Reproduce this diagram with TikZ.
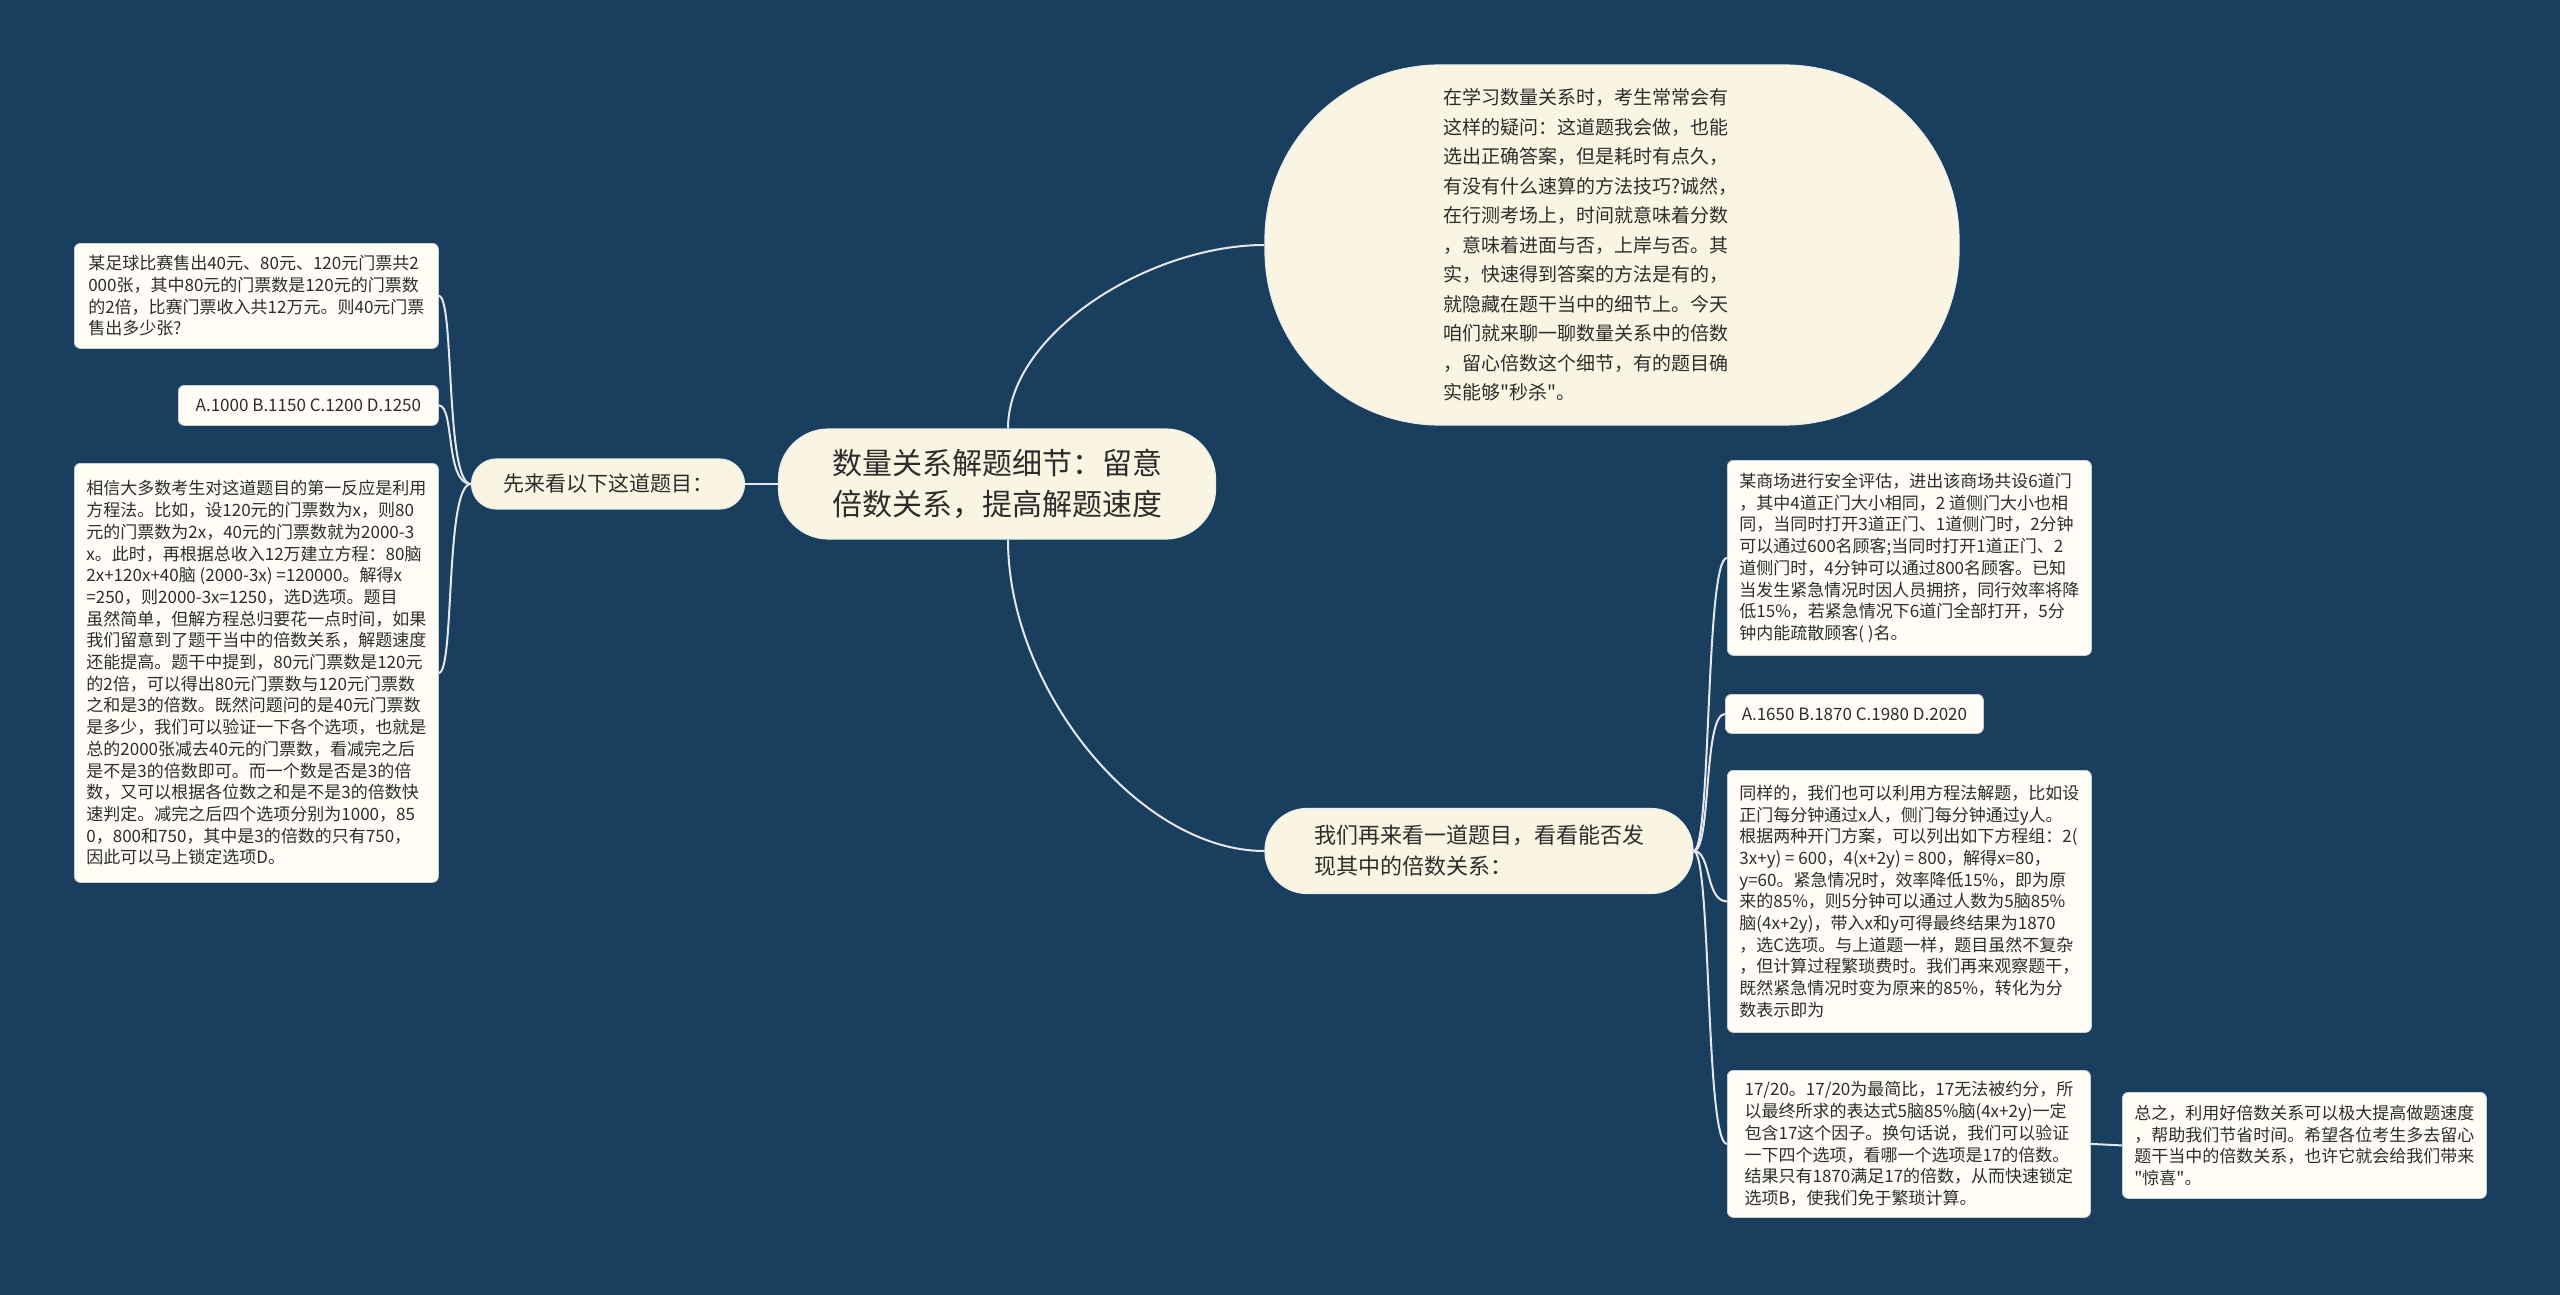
\documentclass[tikz,border=0pt]{standalone}
\usepackage{fontspec}
\newfontfamily\cjkfont{Noto Sans CJK SC}
\usepackage{tikz}
\usetikzlibrary{positioning, calc, backgrounds}

\definecolor{mapbg}{RGB}{26,62,94}
\definecolor{topicfill}{RGB}{250,245,226}
\definecolor{topicedge}{RGB}{236,238,236}
\definecolor{leaffill}{RGB}{255,253,246}
\definecolor{leafedge}{RGB}{205,208,210}
\definecolor{inktext}{RGB}{45,45,45}
\definecolor{branchline}{RGB}{228,232,236}

\begin{document}
\begin{tikzpicture}[x=1pt, y=-1pt]
    \tikzset{
        topic/.style={
                fill=topicfill, draw=topicedge, line width=1.2pt,
                text=inktext, align=left, inner sep=0pt
            },
        leaf/.style={
                fill=leaffill, draw=leafedge, line width=0.8pt, rounded corners=6pt,
                text=inktext, align=left, inner xsep=12pt, inner ysep=0pt,
                font=\cjkfont\fontsize{17}{21.7}\selectfont, anchor=north west
            },
        branch/.style={draw=branchline, line width=2pt}
    }

    \fill[mapbg] (0,0) rectangle (2560,1295);
    \useasboundingbox (0,0) rectangle (2560,1295);

    % central topic
    \node[topic, rounded corners=50pt, minimum width=437pt, minimum height=110pt,
        font=\cjkfont\fontsize{30}{41}\selectfont] (core) at (997,484)
    {数量关系解题细节：留意\\倍数关系，提高解题速度};

    % intro
    \node[topic, rounded corners=175pt, minimum width=694pt, minimum height=360pt,
        font=\cjkfont\fontsize{19}{29.5}\selectfont] (intro) at (1612,245)
    {在学习数量关系时，考生常常会有\hbox to 52pt{}\\这样的疑问：这道题我会做，也能\\选出正确答案，但是耗时有点久，\\有没有什么速算的方法技巧?诚然，\\在行测考场上，时间就意味着分数\\，意味着进面与否，上岸与否。其\\实，快速得到答案的方法是有的，\\就隐藏在题干当中的细节上。今天\\咱们就来聊一聊数量关系中的倍数\\，留心倍数这个细节，有的题目确\\实能够"秒杀"。};

    % first question
    \node[topic, rounded corners=25pt, minimum width=273pt, minimum height=50pt,
        font=\cjkfont\fontsize{21}{29}\selectfont] (firstq) at (608,484)
    {先来看以下这道题目：};
    \node[leaf, minimum width=364pt, minimum height=105pt] (qa) at (74,243)
    {某足球比赛售出40元、80元、120元门票共2\\000张，其中80元的门票数是120元的门票数\\的2倍，比赛门票收入共12万元。则40元门票\\售出多少张?};
    \node[leaf, minimum width=260pt, minimum height=40pt] (qaopt) at (178,385)
    {A.1000 B.1150 C.1200 D.1250};
    \node[leaf, minimum width=364pt, minimum height=419pt] (qasol) at (74,463)
    {相信大多数考生对这道题目的第一反应是利用\\方程法。比如，设120元的门票数为x，则80\\元的门票数为2x，40元的门票数就为2000-3\\x。此时，再根据总收入12万建立方程：80脑\\2x+120x+40脑 (2000-3x) =120000。解得x\\=250，则2000-3x=1250，选D选项。题目\\虽然简单，但解方程总归要花一点时间，如果\\我们留意到了题干当中的倍数关系，解题速度\\还能提高。题干中提到，80元门票数是120元\\的2倍，可以得出80元门票数与120元门票数\\之和是3的倍数。既然问题问的是40元门票数\\是多少，我们可以验证一下各个选项，也就是\\总的2000张减去40元的门票数，看减完之后\\是不是3的倍数即可。而一个数是否是3的倍\\数，又可以根据各位数之和是不是3的倍数快\\速判定。减完之后四个选项分别为1000，85\\0，800和750，其中是3的倍数的只有750，\\因此可以马上锁定选项D。};

    % second question
    \node[topic, rounded corners=42pt, minimum width=428pt, minimum height=85pt,
        font=\cjkfont\fontsize{22}{31}\selectfont] (secondq) at (1479,851)
    {我们再来看一道题目，看看能否发\\现其中的倍数关系：};
    \node[leaf, minimum width=363pt, minimum height=195pt] (qb) at (1727,460)
    {某商场进行安全评估，进出该商场共设6道门\\，其中4道正门大小相同，2 道侧门大小也相\\同，当同时打开3道正门、1道侧门时，2分钟\\可以通过600名顾客;当同时打开1道正门、2\\道侧门时，4分钟可以通过800名顾客。已知\\当发生紧急情况时因人员拥挤，同行效率将降\\低15\%，若紧急情况下6道门全部打开，5分\\钟内能疏散顾客( )名。};
    \node[leaf, minimum width=258pt, minimum height=39pt] (qbopt) at (1725,694)
    {A.1650 B.1870 C.1980 D.2020};
    \node[leaf, minimum width=363pt, minimum height=262pt] (qbsol) at (1727,770)
    {同样的，我们也可以利用方程法解题，比如设\\正门每分钟通过x人，侧门每分钟通过y人。\\根据两种开门方案，可以列出如下方程组：2(\\3x+y) = 600，4(x+2y) = 800，解得x=80，\\y=60。紧急情况时，效率降低15\%，即为原\\来的85\%，则5分钟可以通过人数为5脑85\%\\脑(4x+2y)，带入x和y可得最终结果为1870\\，选C选项。与上道题一样，题目虽然不复杂\\，但计算过程繁琐费时。我们再来观察题干，\\既然紧急情况时变为原来的85\%，转化为分\\数表示即为};
    \node[leaf, minimum width=363pt, minimum height=147pt] (qbfrac) at (1727,1070)
    {17/20。17/20为最简比，17无法被约分，所\\以最终所求的表达式5脑85\%脑(4x+2y)一定\\包含17这个因子。换句话说，我们可以验证\\一下四个选项，看哪一个选项是17的倍数。\\结果只有1870满足17的倍数，从而快速锁定\\选项B，使我们免于繁琐计算。};
    \node[leaf, minimum width=363pt, minimum height=106pt] (summary) at (2122,1092)
    {总之，利用好倍数关系可以极大提高做题速度\\，帮助我们节省时间。希望各位考生多去留心\\题干当中的倍数关系，也许它就会给我们带来\\"惊喜"。};

    % branches
    \draw[branch] ($(core.north)+(11,0)$) .. controls +(0,-95) and +(-115,0) .. (intro.west);
    \draw[branch] ($(core.south)+(11,0)$) .. controls +(0,150) and +(-125,0) .. (secondq.west);
    \draw[branch] (core.west) -- (firstq.east);
    \foreach \leafname in {qa, qaopt, qasol}
    \draw[branch] (firstq.west) .. controls +(-26,0) and +(16,0) .. (\leafname.east);
    \foreach \leafname in {qb, qbopt, qbsol, qbfrac}
    \draw[branch] (secondq.east) .. controls +(18,0) and +(-22,0) .. (\leafname.west);
    \draw[branch] (qbfrac.east) -- (summary.west);
\end{tikzpicture}
\end{document}
